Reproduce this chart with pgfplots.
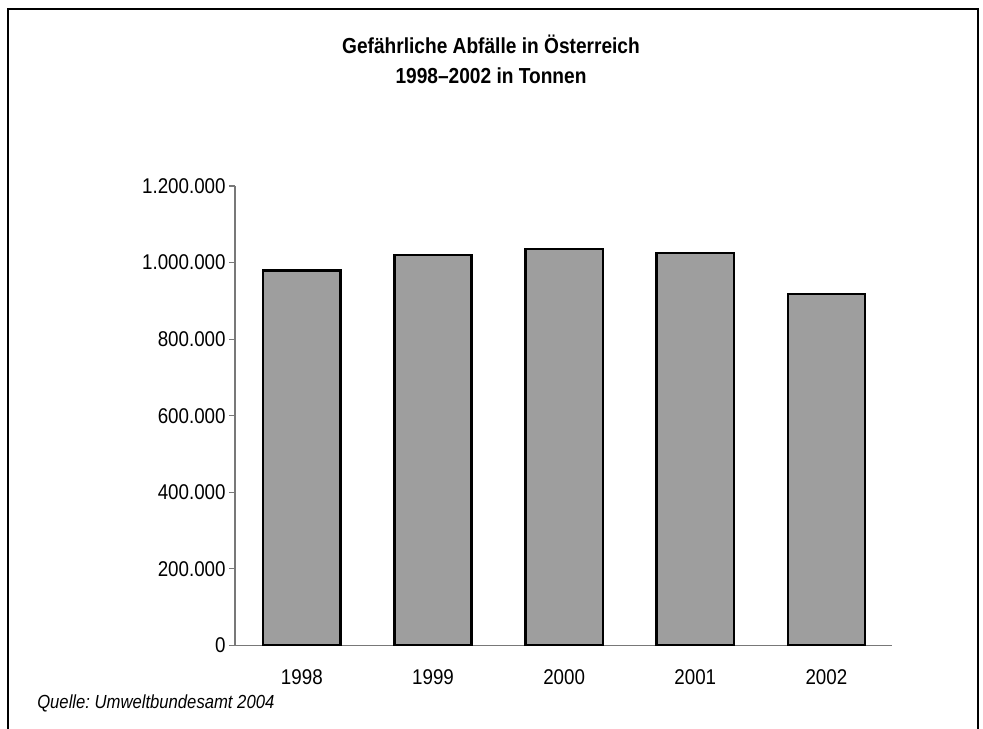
\documentclass[border=0pt]{standalone}
\usepackage{pgfplots}
\pgfplotsset{compat=1.18}
\usepackage{fontspec}
\setmainfont{Liberation Sans}[FakeStretch=0.88]
\definecolor{barfill}{RGB}{158,158,158}
\definecolor{axgray}{RGB}{120,120,120}
\begin{document}
\frenchspacing
\begin{tikzpicture}[x=1pt,y=1pt]
\useasboundingbox (-176.25,-62.6) rectangle (561,484.1);
\draw[line width=1.4pt] (-170.25,-80) -- (-170.25,477.4) -- (557.25,477.4) -- (557.25,-80);
\node[font=\bfseries\fontsize{16.3}{19}\selectfont] at (192,451.1) {Gefährliche Abfälle in Österreich};
\node[font=\bfseries\fontsize{16.3}{19}\selectfont] at (192,427.1) {1998–2002 in Tonnen};
\node[anchor=west,font=\itshape\fontsize{14.2}{16}\selectfont,inner sep=0pt] at (-148.5,-43.1) {Quelle: Umweltbundesamt 2004};
\begin{axis}[
  at={(0,0)}, anchor=south west,
  scale only axis, width=492.75pt, height=344.6pt,
  xmin=-0.51, xmax=4.5, ymin=0, ymax=1200000,
  axis y line=left, axis x line=bottom,
  axis line style={-, axgray, line width=0.8pt},
  xtick={0,1,2,3,4},
  xticklabels={1998,1999,2000,2001,2002},
  x tick style={draw=none},
  ytick={0,200000,400000,600000,800000,1000000,1200000},
  y tick style={axgray, line width=0.8pt},
  tick align=outside,
  major tick length=4.5pt,
  scaled ticks=false,
  ticklabel style={font=\fontsize{16}{18}\selectfont},
  yticklabel style={xshift=1pt, /pgf/number format/.cd, fixed, precision=0, 1000 sep={.}, assume math mode=true},
  xticklabel style={yshift=-10pt},
]
\addplot[ybar, bar width=58pt, fill=barfill, draw=black, line width=1.9pt]
  coordinates {(0,980000) (1,1020000) (2,1035000) (3,1025000) (4,918000)};
\end{axis}
\end{tikzpicture}
\end{document}
